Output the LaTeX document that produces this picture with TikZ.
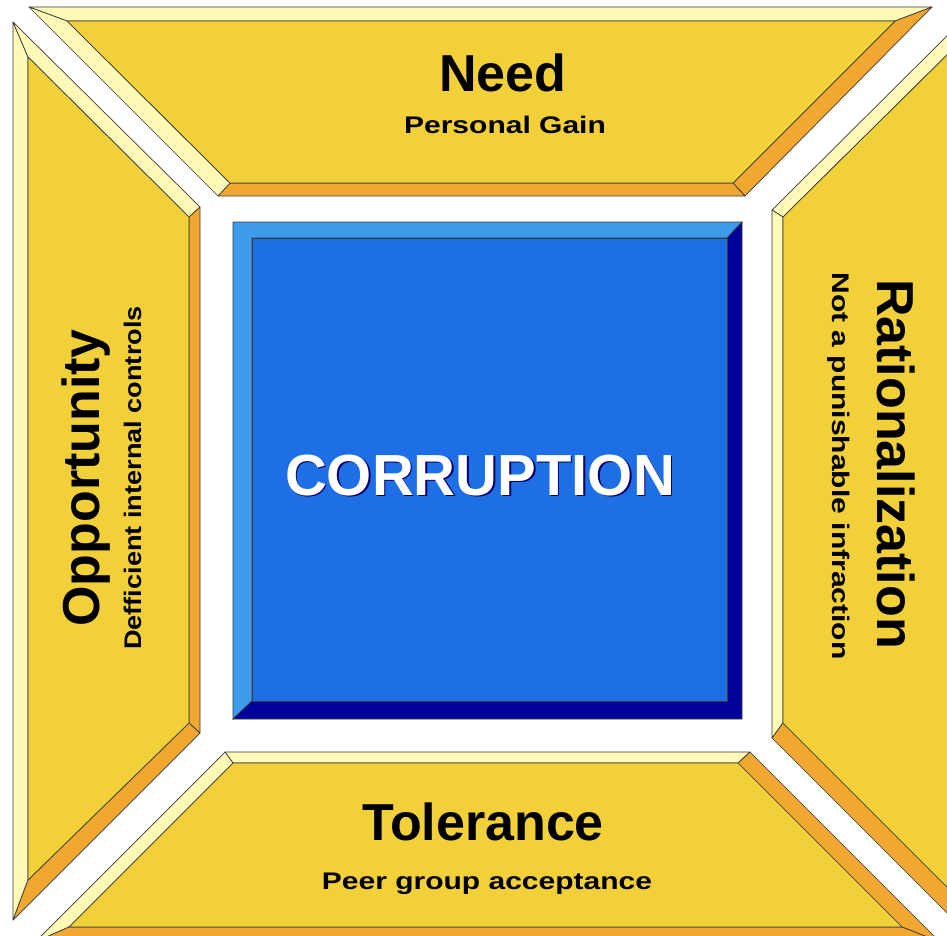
\documentclass[tikz,border=0pt]{standalone}
\usepackage{fontspec}
\setmainfont{Liberation Sans}
\definecolor{face}{HTML}{F2D03A}
\definecolor{lit}{HTML}{FFFAB8}
\definecolor{shade}{HTML}{F0A830}
\definecolor{blueface}{HTML}{1E6FE6}
\definecolor{bluelit}{HTML}{3E9BEC}
\definecolor{blueshade}{HTML}{00009A}
\definecolor{rim}{HTML}{3A3A3A}
\tikzset{
  litside/.style={fill=lit, draw=rim, line width=0.7pt, line join=round},
  shadeside/.style={fill=shade, draw=rim, line width=0.7pt, line join=round},
  panelface/.style={fill=face, draw=rim, line width=0.7pt, line join=round},
  bluelitside/.style={fill=bluelit, draw=rim, line width=0.7pt},
  blueshadeside/.style={fill=blueshade, draw=rim, line width=0.7pt},
  bluefaceside/.style={fill=blueface, draw=rim, line width=0.7pt},
  headline/.style={font=\fontsize{52}{60}\selectfont\bfseries, inner sep=0pt, anchor=base},
  subline/.style={font=\fontsize{24}{28}\selectfont\bfseries, inner sep=0pt, anchor=base}
}
\begin{document}
\begin{tikzpicture}[x=1pt, y=-1pt]
\useasboundingbox (0,0) rectangle (947,936);
\clip (0,0) rectangle (947,936);
\fill[white] (0,0) rectangle (947,936);
% top panel: Need
\draw[litside] (29,7) -- (932,7) -- (895,21) -- (67,21) -- cycle;
\draw[shadeside] (932,7) -- (745,196) -- (733,183) -- (895,21) -- cycle;
\draw[shadeside] (745,196) -- (218,196) -- (230,183) -- (733,183) -- cycle;
\draw[litside] (218,196) -- (29,7) -- (67,21) -- (230,183) -- cycle;
\draw[panelface] (67,21) -- (895,21) -- (733,183) -- (230,183) -- cycle;
% left panel: Opportunity
\draw[litside] (13,22) -- (13,920) -- (28,880) -- (28,57) -- cycle;
\draw[litside] (13,22) -- (200,207) -- (189,217) -- (28,57) -- cycle;
\draw[shadeside] (200,207) -- (200,733) -- (189,723) -- (189,217) -- cycle;
\draw[shadeside] (200,733) -- (13,920) -- (28,880) -- (189,723) -- cycle;
\draw[panelface] (28,57) -- (189,217) -- (189,723) -- (28,880) -- cycle;
% right panel: Rationalization
\draw[litside] (772,210) -- (965,18) -- (950,52) -- (783,217) -- cycle;
\draw[litside] (772,210) -- (772,738) -- (783,723) -- (783,217) -- cycle;
\draw[shadeside] (772,738) -- (965,931) -- (950,890) -- (783,723) -- cycle;
\draw[shadeside] (965,18) -- (965,931) -- (950,890) -- (950,52) -- cycle;
\draw[panelface] (783,217) -- (950,52) -- (950,890) -- (783,723) -- cycle;
% bottom panel: Tolerance
\draw[litside] (225,752) -- (750,752) -- (738,763) -- (233,763) -- cycle;
\draw[litside] (225,752) -- (35,942) -- (69,927) -- (233,763) -- cycle;
\draw[shadeside] (750,752) -- (940,942) -- (902,927) -- (738,763) -- cycle;
\draw[shadeside] (35,942) -- (940,942) -- (902,927) -- (69,927) -- cycle;
\draw[panelface] (233,763) -- (738,763) -- (902,927) -- (69,927) -- cycle;
% centre block
\draw[bluelitside] (233,222) -- (742,222) -- (727,238) -- (252,238) -- (252,701) -- (233,719) -- cycle;
\draw[blueshadeside] (742,222) -- (742,719) -- (233,719) -- (252,701) -- (727,701) -- (727,238) -- cycle;
\draw[bluefaceside] (252,238) rectangle (727,701);
% texts
\node[headline] (need) at (503,92) {Need};
\node[subline] (needsub) at (505,134) {\scalebox{1.25}[1]{Personal Gain}};
\node[headline] (tolerance) at (483,840) {Tolerance};
\node[subline] (tolerancesub) at (487,889) {\scalebox{1.25}[1]{Peer group acceptance}};
\node[headline, rotate=90] (opportunity) at (99,478) {Opportunity};
\node[subline, rotate=90] (opportunitysub) at (141,478) {\scalebox{1.13}[1]{Defficient internal controls}};
\node[headline, rotate=-90] (rational) at (877,464) {Rationalization};
\node[subline, rotate=-90] (rationalsub) at (832,466) {\scalebox{1.25}[1]{Not a punishable infraction}};
\node[headline, font=\fontsize{58}{64}\selectfont\bfseries, text=blueshade!70!black] (corruptshadow) at (481.5,496.5) {CORRUPTION};
\node[headline, font=\fontsize{58}{64}\selectfont\bfseries, text=white] (corrupt) at (480,495) {CORRUPTION};
\end{tikzpicture}
\end{document}
